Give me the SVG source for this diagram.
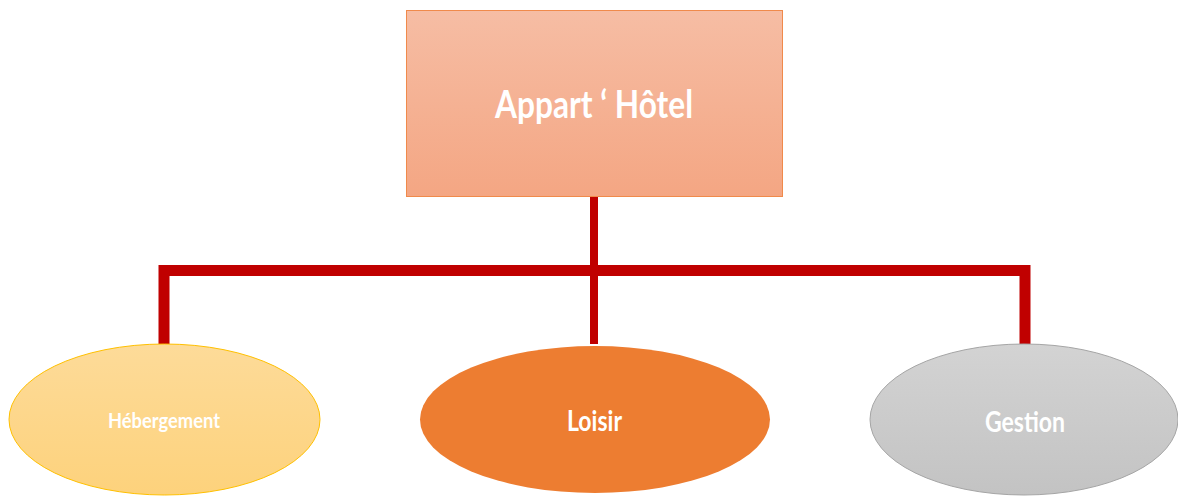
<svg xmlns="http://www.w3.org/2000/svg" width="1178" height="496" viewBox="0 0 1178 496">
<style>
.lbl{font-family:Lato,"Open Sans","Liberation Sans",sans-serif;font-weight:bold;fill:#FFFFFF;text-anchor:middle}
.conn{fill:none;stroke:#C00000;stroke-linejoin:miter}
</style>
<defs>
<linearGradient id="gRect" x1="0" y1="0" x2="0" y2="1">
<stop offset="0" stop-color="#F6BDA4"/>
<stop offset="1" stop-color="#F4A683"/>
</linearGradient>
<linearGradient id="gYel" x1="0" y1="0" x2="0" y2="1">
<stop offset="0" stop-color="#FDDB99"/>
<stop offset="1" stop-color="#FDD27C"/>
</linearGradient>
<linearGradient id="gGray" x1="0" y1="0" x2="0" y2="1">
<stop offset="0" stop-color="#D3D3D3"/>
<stop offset="1" stop-color="#C3C3C3"/>
</linearGradient>
</defs>
<rect width="1178" height="496" fill="#FFFFFF"/>
<g id="connectors">
<path class="conn" stroke-width="8" d="M594 197 V344"/>
<path class="conn" stroke-width="11" d="M164 344 V270.5 H1025 V344"/>
</g>
<g id="node-appart">
<rect x="406.5" y="10.5" width="376" height="186" fill="url(#gRect)" stroke="#F08A4B" stroke-width="1"/>
<text class="lbl" x="594" y="118" font-size="39" textLength="198" lengthAdjust="spacingAndGlyphs">Appart ‘ Hôtel</text>
</g>
<g id="node-hebergement">
<ellipse cx="164.5" cy="419.5" rx="155.5" ry="75.5" fill="url(#gYel)" stroke="#FFC000" stroke-width="1"/>
<text class="lbl" x="164" y="428" font-size="21" textLength="112" lengthAdjust="spacingAndGlyphs">Hébergement</text>
</g>
<g id="node-loisir">
<ellipse cx="595" cy="419.5" rx="175" ry="73.5" fill="#ED7D31"/>
<text class="lbl" x="594.5" y="431" font-size="29" textLength="55" lengthAdjust="spacingAndGlyphs">Loisir</text>
</g>
<g id="node-gestion">
<ellipse cx="1024" cy="419.5" rx="154" ry="75.5" fill="url(#gGray)" stroke="#A5A5A5" stroke-width="1"/>
<text class="lbl" x="1025" y="432" font-size="29" textLength="80" lengthAdjust="spacingAndGlyphs">Gestion</text>
</g>
</svg>
